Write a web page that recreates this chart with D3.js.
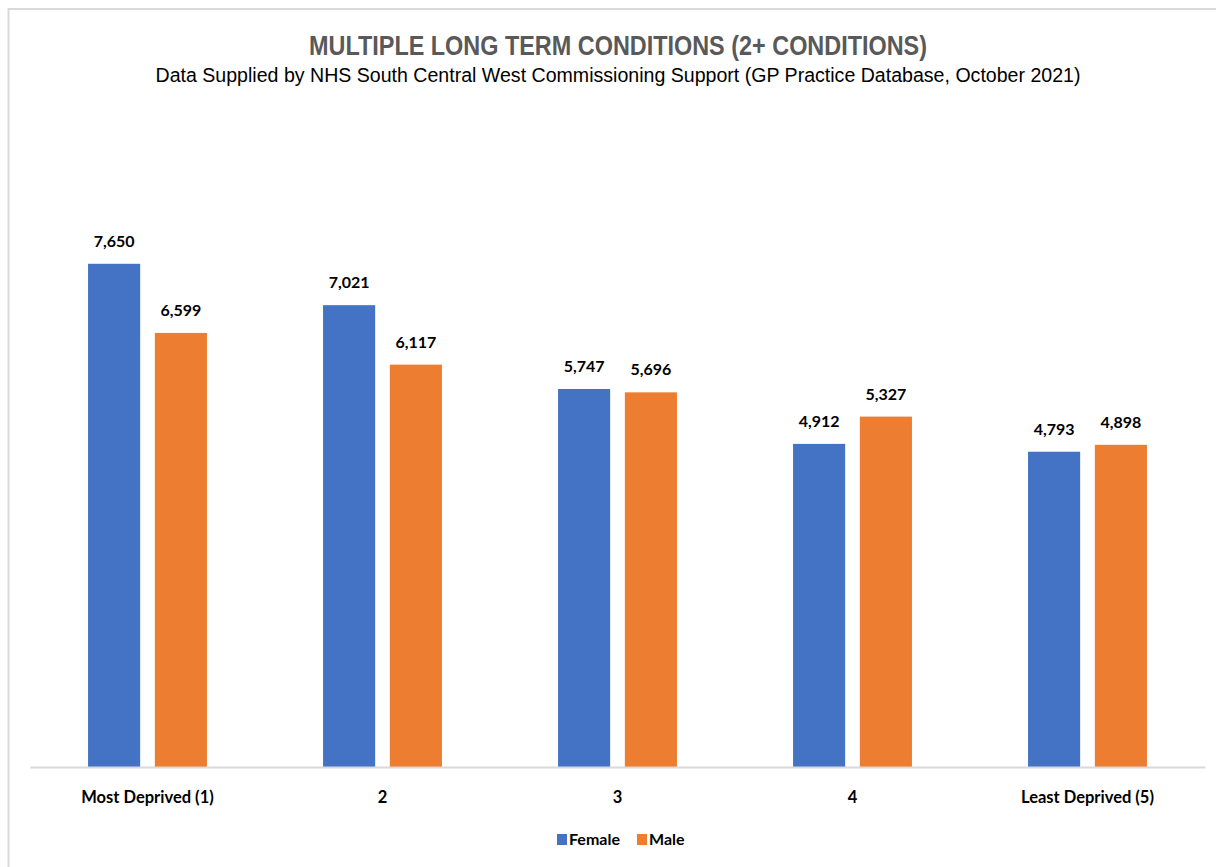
<!DOCTYPE html>
<html>
    <head>
        <meta charset="utf-8" />
        <title>Multiple Long Term Conditions</title>
        <script src="https://d3js.org/d3.v7.min.js"></script>
        <style>
            body {
                margin: 0;
                background: #ffffff;
            }
            svg {
                display: block;
            }
        </style>
    </head>
    <body>
        <svg id="chart" width="1216" height="867"></svg>

        <script>
            // Data
            const categories = ["Most Deprived (1)", "2", "3", "4", "Least Deprived (5)"];
            const seriesNames = ["Female", "Male"];
            const female = [7650, 7021, 5747, 4912, 4793];
            const male = [6599, 6117, 5696, 5327, 4898];
            const colors = ["#4472c4", "#ed7d31"];

            const data = categories.map((c, i) => ({
                category: c,
                Female: female[i],
                Male: male[i],
            }));

            const svg = d3.select("#chart");

            // chart border
            svg.append("rect")
                .attr("x", 8.5)
                .attr("y", 9)
                .attr("width", 1240)
                .attr("height", 900)
                .style("fill", "none")
                .style("stroke", "#d9d9d9")
                .style("stroke-width", 2);

            // Title (narrow font squeezed to width)
            svg.append("text")
                .attr("x", 618)
                .attr("y", 55)
                .attr("text-anchor", "middle")
                .attr("textLength", 618)
                .attr("lengthAdjust", "spacingAndGlyphs")
                .style("font-family", "'Liberation Sans', Arial, sans-serif")
                .style("font-weight", "bold")
                .style("font-size", "27px")
                .style("fill", "#595959")
                .text("MULTIPLE LONG TERM CONDITIONS (2+ CONDITIONS)");

            svg.append("text")
                .attr("x", 618)
                .attr("y", 82)
                .attr("text-anchor", "middle")
                .attr("textLength", 925)
                .attr("lengthAdjust", "spacingAndGlyphs")
                .style("font-family", "'Liberation Sans', Arial, sans-serif")
                .style("font-size", "20px")
                .style("fill", "#000000")
                .text("Data Supplied by NHS South Central West Commissioning Support (GP Practice Database, October 2021)");

            // Scales
            const x0 = d3
                .scaleBand()
                .domain(categories)
                .range([30, 1205])
                .paddingInner(0.494)
                .paddingOuter(0.247);

            const x1 = d3
                .scaleBand()
                .domain(seriesNames)
                .range([0, x0.bandwidth()])
                .paddingInner(0.22);

            const y = d3.scaleLinear().domain([0, 9000]).range([767, 175]);

            const color = d3.scaleOrdinal().domain(seriesNames).range(colors);

            // Bars
            const groups = svg
                .selectAll(".group")
                .data(data)
                .enter()
                .append("g")
                .attr("class", "group")
                .attr("transform", (d) => `translate(${x0(d.category)},0)`);

            const items = groups
                .selectAll(".item")
                .data((d) => seriesNames.map((k) => ({ key: k, value: d[k] })))
                .enter()
                .append("g")
                .attr("class", "item");

            items
                .append("rect")
                .attr("x", (d) => x1(d.key))
                .attr("y", (d) => y(d.value))
                .attr("width", x1.bandwidth())
                .attr("height", (d) => y(0) - y(d.value))
                .style("fill", (d) => color(d.key));

            items
                .append("text")
                .attr("x", (d) => x1(d.key) + x1.bandwidth() / 2)
                .attr("y", (d) => y(d.value) - 17)
                .attr("text-anchor", "middle")
                .style("font-family", "Lato, sans-serif")
                .style("font-weight", "bold")
                .style("font-size", "16px")
                .style("fill", "#000000")
                .text((d) => d3.format(",")(d.value));

            // X axis
            const xAxis = svg
                .append("g")
                .attr("transform", `translate(0,${y(0)})`)
                .call(d3.axisBottom(x0).tickSize(0).tickPadding(24));

            xAxis.select(".domain")
                .attr("stroke", "#d9d9d9")
                .attr("stroke-width", 2);

            xAxis.selectAll("text")
                .style("font-family", "Lato, sans-serif")
                .style("font-weight", "bold")
                .style("font-size", "16.5px")
                .style("fill", "#000000");

            // Legend
            const legendX = [557, 637];
            const legend = svg
                .selectAll(".legend")
                .data(seriesNames)
                .enter()
                .append("g")
                .attr("class", "legend")
                .attr("transform", (d, i) => `translate(${legendX[i]},834)`);

            legend
                .append("rect")
                .attr("width", 10)
                .attr("height", 11)
                .style("fill", (d) => color(d));

            legend
                .append("text")
                .attr("x", 12)
                .attr("y", 11)
                .style("font-family", "Lato, sans-serif")
                .style("font-weight", "bold")
                .style("font-size", "16px")
                .style("fill", "#000000")
                .text((d) => d);
        </script>
    </body>
</html>
